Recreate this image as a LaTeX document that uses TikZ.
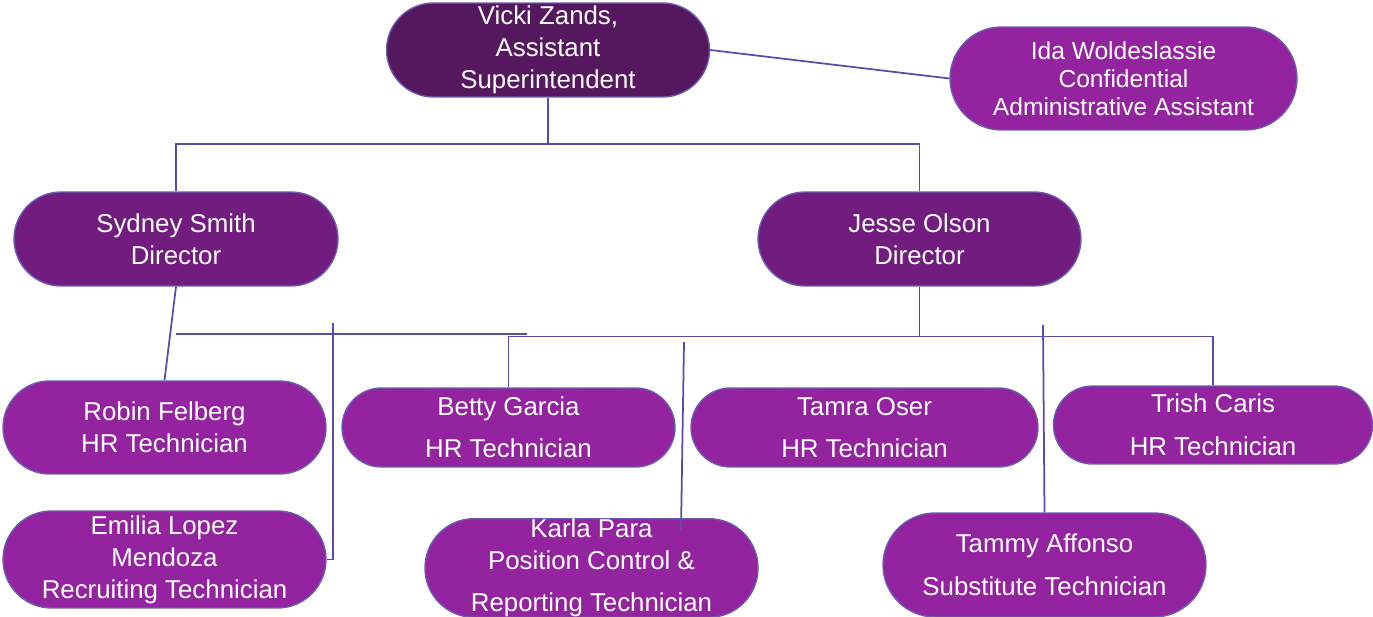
\documentclass[tikz,border=0pt]{standalone}
\usepackage{fontspec}
\setmainfont{Liberation Sans}
\usepackage{tikz}
\definecolor{bosscol}{HTML}{55175E}
\definecolor{leadcol}{HTML}{731C80}
\definecolor{techcol}{HTML}{93239F}
\definecolor{rimcol}{HTML}{6B5BB0}
\definecolor{wirecol}{HTML}{5C4CA8}

\begin{document}
\begin{tikzpicture}[x=0.02cm, y=-0.02cm,
		staff/.style={shape=rectangle, draw=rimcol, line width=0.8pt, fill=techcol, text=white, align=center, inner sep=0pt, font=\fontsize{14.7}{18.2}\selectfont},
		wire/.style={draw=wirecol, line width=1pt}]
		\useasboundingbox (0,0) rectangle (1373,617);
		% Paths, nodes and wires:
		\node[staff, fill=bosscol, minimum width=6.46cm, minimum height=1.88cm, rounded corners=0.94cm](N1) at (548, 50){Vicki Zands,\\Assistant\\Superintendent};
		\node[staff, font=\fontsize{14}{16}\selectfont, minimum width=6.94cm, minimum height=2.06cm, rounded corners=1.03cm](N2) at (1123.5, 78.5){Ida Woldeslassie\\Confidential\\Administrative Assistant};
		\node[staff, fill=leadcol, minimum width=6.48cm, minimum height=1.88cm, rounded corners=0.94cm](N3) at (176, 239){Sydney Smith\\Director};
		\node[staff, fill=leadcol, minimum width=6.46cm, minimum height=1.88cm, rounded corners=0.94cm](N4) at (919.5, 239){Jesse Olson\\Director};
		\node[staff, minimum width=6.46cm, minimum height=1.86cm, rounded corners=0.93cm](N5) at (164.5, 427.5){Robin Felberg\\HR Technician};
		\node[staff, minimum width=6.66cm, minimum height=1.58cm, rounded corners=0.79cm](N6) at (508.5, 427.5){Betty Garcia\\[6pt]HR Technician};
		\node[staff, minimum width=6.94cm, minimum height=1.58cm, rounded corners=0.79cm](N7) at (864.5, 427.5){Tamra Oser\\[6pt]HR Technician};
		\node[staff, minimum width=6.38cm, minimum height=1.56cm, rounded corners=0.78cm](N8) at (1213, 425){Trish Caris\\[6pt]HR Technician};
		\node[staff, minimum width=6.46cm, minimum height=1.94cm, rounded corners=0.97cm](N9) at (164.5, 559.5){Emilia Lopez\\Mendoza\\Recruiting Technician};
		\node[staff, minimum width=6.66cm, minimum height=1.96cm, rounded corners=0.98cm](N10) at (591.5, 568){Karla Para\\Position Control \&\\[6pt]Reporting Technician};
		\node[staff, minimum width=6.46cm, minimum height=2.08cm, rounded corners=1.04cm](N11) at (1044.5, 565){Tammy Affonso\\[6pt]Substitute Technician};
		\coordinate (C1) at (548, 144);
		\coordinate (C2) at (176, 334);
		\coordinate (C3) at (527, 334);
		\coordinate (C4) at (919.5, 336.5);
		\coordinate (C5) at (333, 323);
		\coordinate (C6) at (684, 342);
		\coordinate (C7) at (681, 530);
		\coordinate (C8) at (1043, 325);
		\draw[wire] (N1.east) -- (N2.west);
		\draw[wire] (N1.south) -- (C1);
		\draw[wire] (N3.north) |- (C1) -| (N4.north);
		\draw[wire] (N3.south) -- (N5.north);
		\draw[wire] (C2) -- (C3);
		\draw[wire] (N4.south) -- (C4);
		\draw[wire] (N6.north) |- (C4) -| (N8.north);
		\draw[wire] (C5) |- (N9.east);
		\draw[wire] (C6) -- (C7);
		\draw[wire] (C8) -- (N11.north);
	\end{tikzpicture}
\end{document}
